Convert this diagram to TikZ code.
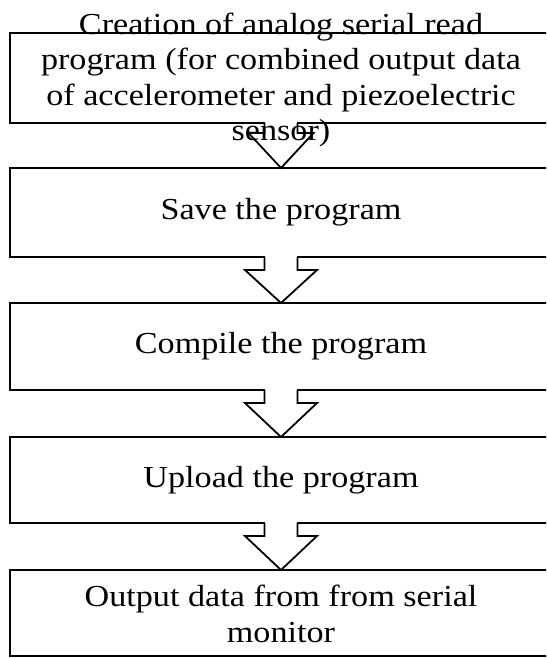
\documentclass[tikz,border=0pt]{standalone}
\usepackage{fontspec}
\setmainfont{Liberation Serif}
\begin{document}
\begin{tikzpicture}[x=1pt,y=-1pt,
  box/.style={draw=black,line width=2.1pt,rectangle,minimum width=542pt,outer sep=0pt,inner sep=0pt},
  arr/.style={draw=black,line width=1.8pt,line join=miter},
  txt/.style={align=center,font=\fontsize{30.5}{35.5}\selectfont,inner sep=0pt,xscale=1.12,transform shape}]
\useasboundingbox (0,0) rectangle (546,658);
\clip (0,0) rectangle (546,658);
\newcommand\gapfill[2]{\fill[white] ([xshift=-#2pt,yshift=1.8pt]#1.south) rectangle ([xshift=#2pt,yshift=-1.8pt]#1.south);}
\newcommand\blockarrow[5]{%
  \draw[arr] ([xshift=-#3pt]#1.south) -- ([xshift=-#3pt,yshift=-#5pt]#1.south)
    -- ([xshift=-#4pt,yshift=-#5pt]#1.south) -- (#2.north)
    -- ([xshift=#4pt,yshift=-#5pt]#1.south) -- ([xshift=#3pt,yshift=-#5pt]#1.south)
    -- ([xshift=#3pt]#1.south);}
% boxes
\node[box,minimum height=90pt] (b1) at (281,78) {};
\node[box,minimum height=89pt] (b2) at (281,212.5) {};
\node[box,minimum height=87pt] (b3) at (281,346.5) {};
\node[box,minimum height=86pt] (b4) at (281,480) {};
\node[box,minimum height=86pt] (b5) at (281,613) {};
% openings
\gapfill{b1}{15.6}
\gapfill{b2}{15.6}
\gapfill{b3}{15.6}
\gapfill{b4}{15.6}
% arrows
\blockarrow{b1}{b2}{16.5}{32.5}{10}
\blockarrow{b2}{b3}{16.5}{36}{13}
\blockarrow{b3}{b4}{16.5}{36}{13}
\blockarrow{b4}{b5}{16.5}{36}{13}
% texts
\node[txt] (t1) at (281,80) {Creation of analog serial read\\program (for combined output data\\of accelerometer and piezoelectric\\sensor)};
\node[txt] (t2) at (b2.center) {Save the program};
\node[txt] (t3) at (b3.center) {Compile the program};
\node[txt] (t4) at (b4.center) {Upload the program};
\node[txt] (t5) at (281,614) {Output data from from serial\\monitor};
\end{tikzpicture}
\end{document}
